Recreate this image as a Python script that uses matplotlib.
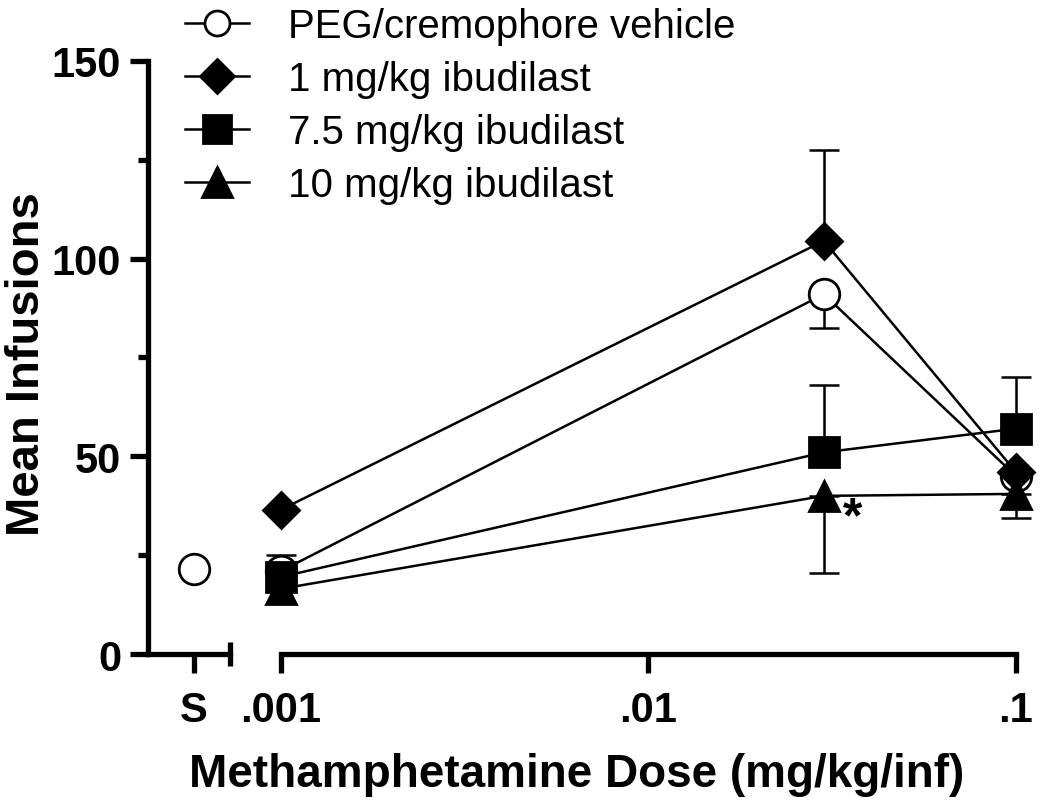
import matplotlib
matplotlib.use("Agg")
import matplotlib.pyplot as plt
from matplotlib.ticker import FixedLocator, NullFormatter

plt.rcParams["font.family"] = ["Liberation Sans", "DejaVu Sans"]

# ---------------------------------------------------------------------------
# Data
# ---------------------------------------------------------------------------
doses = [0.001, 0.03, 0.1]
saline_label = "S"
saline_mean = 21.5

labels = ["PEG/cremophore vehicle", "1 mg/kg ibudilast",
          "7.5 mg/kg ibudilast", "10 mg/kg ibudilast"]
vehicle_mean = [21.0, 91.0, 45.0]
vehicle_err_lo = [0.0, 8.5, 0.0]
vehicle_err_hi = [4.0, 0.0, 0.0]

ibud1_mean = [36.5, 104.5, 46.0]
ibud1_err_lo = [0.0, 0.0, 0.0]
ibud1_err_hi = [0.0, 23.0, 0.0]

ibud75_mean = [19.5, 51.0, 57.0]
ibud75_err_lo = [0.0, 0.0, 0.0]
ibud75_err_hi = [0.0, 17.0, 13.0]

ibud10_mean = [16.5, 40.0, 40.5]
ibud10_err_lo = [0.0, 19.5, 6.0]
ibud10_err_hi = [0.0, 0.0, 0.0]

yticks = [0, 50, 100, 150]
yminor = [25, 75, 125]
xticks = [0.001, 0.01, 0.1]
xticklabels = [".001", ".01", ".1"]

# ---------------------------------------------------------------------------
# Figure with broken x axis: saline segment + log dose segment
# ---------------------------------------------------------------------------
fig = plt.figure(figsize=(10.5, 8.03), dpi=100)
bottom, height = 0.1843, 0.7385
ax_s = fig.add_axes([0.1405, bottom, 0.0785, height])
ax = fig.add_axes([0.2676, bottom, 0.700, height])

SPINE_W = 3.8
LINE_W = 1.8
TICK_FS = 30

for a in (ax_s, ax):
    a.set_ylim(0, 150)
    a.patch.set_alpha(0)
    for side in ("top", "right"):
        a.spines[side].set_visible(False)
    a.spines["bottom"].set_linewidth(SPINE_W)
    a.spines["left"].set_linewidth(SPINE_W)
    a.tick_params(axis="x", which="major", direction="out", length=14,
                  width=SPINE_W, labelsize=TICK_FS, pad=12)
    a.tick_params(axis="x", which="minor", direction="inout", length=17,
                  width=SPINE_W)

# saline segment
ax_s.set_xlim(-1.3, 1.0)
ax_s.set_xticks([0])
ax_s.set_xticklabels([saline_label], fontweight="bold", fontsize=TICK_FS)
ax_s.xaxis.set_minor_locator(FixedLocator([1.0]))
ax_s.set_yticks(yticks)
ax_s.set_yticklabels([str(t) for t in yticks], fontweight="bold",
                     fontsize=TICK_FS)
ax_s.yaxis.set_minor_locator(FixedLocator(yminor))
ax_s.tick_params(axis="y", which="major", direction="out", length=13,
                 width=SPINE_W, pad=6)
ax_s.tick_params(axis="y", which="minor", direction="out", length=7,
                 width=SPINE_W)
ax_s.set_ylabel("Mean Infusions", fontsize=34, fontweight="bold")
ax_s.yaxis.set_label_coords(-1.19, 0.49)

mk = dict(color="black", clip_on=False, zorder=3,
          markeredgecolor="black", markeredgewidth=2.0)
ax_s.plot([0], [saline_mean], marker="o", markersize=22,
          markerfacecolor="white", linestyle="none", **mk)

# dose segment
ax.set_xscale("log")
ax.set_xlim(0.001, 0.1)
ax.spines["left"].set_visible(False)
ax.tick_params(axis="y", left=False, labelleft=False, which="both")
ax.xaxis.set_major_locator(FixedLocator(xticks))
ax.set_xticks(xticks)
ax.set_xticklabels(xticklabels, fontweight="bold", fontsize=TICK_FS)
ax.xaxis.set_minor_locator(FixedLocator([0.001]))
ax.xaxis.set_minor_formatter(NullFormatter())

series = [
    (vehicle_mean, vehicle_err_lo, vehicle_err_hi, "o", 22, "white", 18),
    (ibud1_mean, ibud1_err_lo, ibud1_err_hi, "D", 18, "black", 17),
    (ibud75_mean, ibud75_err_lo, ibud75_err_hi, "s", 21, "black", 20),
    (ibud10_mean, ibud10_err_lo, ibud10_err_hi, "^", 21, "black", 21),
]

handles = []
legend_ms = []
for (mean, lo, hi, marker, ms, face, lms), label in zip(series, labels):
    ax.errorbar(doses, mean, yerr=[lo, hi], fmt="none", ecolor="black",
                elinewidth=LINE_W, capsize=11, capthick=LINE_W,
                clip_on=False, zorder=2)
    line, = ax.plot(doses, mean, marker=marker, markersize=ms, lw=LINE_W,
                    markerfacecolor=face, label=label, **mk)
    handles.append(line)
    legend_ms.append(lms)

# significance marker next to the 10 mg/kg point at the middle dose
ax.annotate("*", xy=(doses[1], ibud10_mean[1]), xytext=(21, -16),
            textcoords="offset points", ha="center", va="center",
            fontsize=36, fontweight="bold")

leg = ax.legend(handles=handles, loc="upper left",
                bbox_to_anchor=(0.176, 0.99), bbox_transform=fig.transFigure,
                frameon=False, fontsize=29, handlelength=1.6,
                handletextpad=0.95, labelspacing=0.37, borderpad=0.0,
                borderaxespad=0.0)
for h, lms in zip(leg.legend_handles, legend_ms):
    h.set_markersize(lms)

fig.text(0.549, 1 - 775 / 803, "Methamphetamine Dose (mg/kg/inf)",
         ha="center", va="center", fontsize=33, fontweight="bold")

fig.savefig("out.png", dpi=100, facecolor="white")
